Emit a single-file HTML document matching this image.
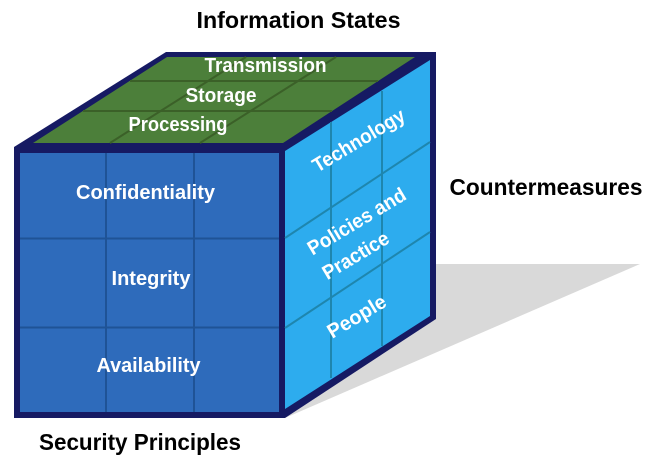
<!DOCTYPE html>
<html><head><meta charset="utf-8"><style>html,body{margin:0;padding:0;background:#fff}svg{display:block}text{font-family:"Liberation Sans",sans-serif;font-weight:bold}</style></head>
<body>
<svg width="653" height="467" viewBox="0 0 653 467" xmlns="http://www.w3.org/2000/svg">
<polygon points="434,264 640,264 285,418" fill="#d9d9d9"/>
<polygon points="14,147 166,52 436,52 436,319 285,418 14,418" fill="#161a63"/>
<polygon points="33,143 167,57 415,57 283,143" fill="#4c7f3a"/>
<rect x="20" y="153" width="259" height="259" fill="#2e6bbb"/>
<polygon points="285,151 430,60 430,316 285,409" fill="#2dacee"/>
<g stroke-width="2" fill="none">
<g stroke="#3b6028">
<path d="M110,143L246,57M200,143L336,57M83,111H332M130,81H378"/>
</g>
<g stroke="#1f5396">
<path d="M106,153V412M194,153V412M20,238.500H279M20,327.500H279"/>
</g>
<g stroke="#1e86ae">
<path d="M331,122V378M382,91V346M285,238L430,142M285,328L430,232"/>
</g>
</g>
<g fill="#fff" font-size="20" text-anchor="middle">
<text x="265.500" y="72" textLength="122" lengthAdjust="spacingAndGlyphs">Transmission</text>
<text x="221" y="102" textLength="71" lengthAdjust="spacingAndGlyphs">Storage</text>
<text x="178" y="131" textLength="99" lengthAdjust="spacingAndGlyphs">Processing</text>
<text x="145.500" y="199" textLength="139" lengthAdjust="spacingAndGlyphs">Confidentiality</text>
<text x="151" y="285" textLength="79" lengthAdjust="spacingAndGlyphs">Integrity</text>
<text x="148.500" y="372" textLength="104" lengthAdjust="spacingAndGlyphs">Availability</text>
<text transform="translate(359,141) rotate(-31)" x="0" y="6" textLength="104" lengthAdjust="spacingAndGlyphs">Technology</text>
<text transform="translate(357,222) rotate(-31)" x="0" y="6" textLength="111" lengthAdjust="spacingAndGlyphs">Policies and</text>
<text transform="translate(356,256) rotate(-31)" x="0" y="6" textLength="74" lengthAdjust="spacingAndGlyphs">Practice</text>
<text transform="translate(357,317) rotate(-31)" x="0" y="6" textLength="65" lengthAdjust="spacingAndGlyphs">People</text>
</g>
<g fill="#000" font-size="23" text-anchor="middle">
<text x="298.500" y="28" textLength="204" lengthAdjust="spacingAndGlyphs">Information States</text>
<text x="546" y="195" textLength="193" lengthAdjust="spacingAndGlyphs">Countermeasures</text>
<text x="140" y="450" textLength="202" lengthAdjust="spacingAndGlyphs">Security Principles</text>
</g>
</svg>
</body></html>
